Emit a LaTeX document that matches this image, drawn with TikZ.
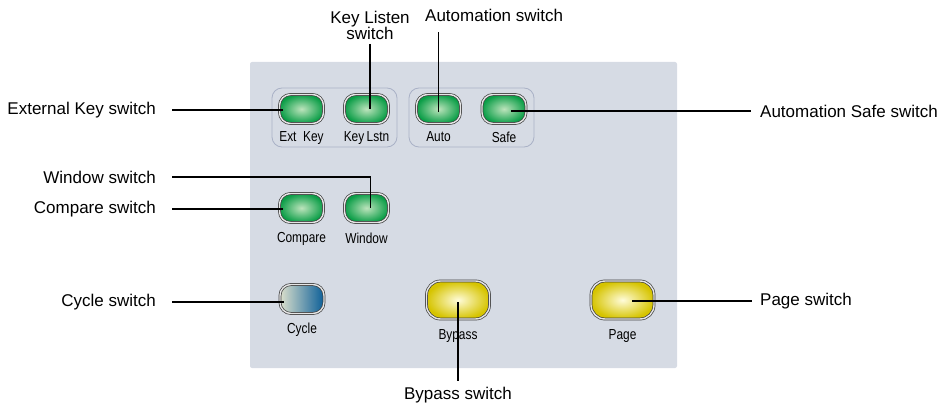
\documentclass[tikz,border=0pt]{standalone}
\usepackage{fontspec}
\setmainfont{Liberation Sans}
\newfontfamily\capfont[FakeStretch=0.82]{Liberation Sans}
\usetikzlibrary{positioning}
\definecolor{panelgray}{HTML}{D6DBE4}
\definecolor{grpline}{HTML}{A9B1C6}
\definecolor{ledgreen}{HTML}{0C9E48}
\definecolor{ledgreenlt}{HTML}{BDE4BC}
\definecolor{ledyellow}{HTML}{D6C400}
\definecolor{ledyellowlt}{HTML}{FFFCDA}
\definecolor{ledblue}{HTML}{0B5E98}
\definecolor{ledbluelt}{HTML}{DCE0CC}
\tikzset{
  btn/.style={draw=black!75,line width=0.7pt,double=gray!20,double distance=1.4pt,
    rounded corners=11pt,minimum width=44pt,minimum height=29pt,inner sep=0pt},
  bigbtn/.style={btn,rounded corners=14pt,minimum width=63pt,minimum height=38pt},
  greenled/.style={inner color=ledgreenlt,outer color=ledgreen},
  yellowled/.style={inner color=ledyellowlt,outer color=ledyellow},
  blueled/.style={left color=ledbluelt,middle color=ledblue,right color=ledblue},
  btncap/.style={font=\capfont\fontsize{14.5}{14}\selectfont,inner sep=1pt},
  lbl/.style={font=\fontsize{17}{16}\selectfont,inner sep=0pt},
  lead/.style={line width=1.9pt},
  grp/.style={draw=grpline,line width=0.8pt,rounded corners=10pt}
}
\begin{document}
\begin{tikzpicture}[x=1pt,y=-1pt]
\useasboundingbox (0,0) rectangle (940,404);
% panel and groups
\fill[panelgray,rounded corners=2pt] (250,62) rectangle (677,368);
\draw[grp] (272,88) rectangle (397,147);
\draw[grp] (409,88) rectangle (534,147);
% switches
\node[btn,greenled] (extkey) at (301.5,109) {};
\node[btn,greenled] (keylstn) at (366.5,109) {};
\node[btn,greenled] (auto) at (438.5,109) {};
\node[btn,greenled] (safe) at (504,109) {};
\node[btn,greenled] (compare) at (301.5,208) {};
\node[btn,greenled] (window) at (366.5,208) {};
\node[btn,blueled] (cycle) at (302,299) {};
\node[bigbtn,yellowled] (bypass) at (458,300) {};
\node[bigbtn,yellowled] (page) at (622.5,300) {};
% captions
\node[btncap,below=6.5pt of extkey] (extkeycap) {Ext\ \ Key};
\node[btncap,below=6.5pt of keylstn] (keylstncap) {Key\,Lstn};
\node[btncap,below=6.5pt of auto] (autocap) {Auto};
\node[btncap,below=6.5pt of safe] (safecap) {Safe};
\node[btncap,below=8.5pt of compare] (comparecap) {Compare};
\node[btncap,below=8.5pt of window] (windowcap) {Window};
\node[btncap,below=8pt of cycle] (cyclecap) {Cycle};
\node[btncap,below=9pt of bypass] (bypasscap) {Bypass};
\node[btncap,below=9pt of page] (pagecap) {Page};
% labels
\node[lbl,anchor=east] (extkeylbl) at (156,110) {External Key switch};
\node[lbl,anchor=east] (windowlbl) at (156,177) {Window switch};
\node[lbl,anchor=east] (comparelbl) at (156,209) {Compare switch};
\node[lbl,anchor=east] (cyclelbl) at (156,302) {Cycle switch};
\node[lbl,anchor=west] (safelbl) at (760,111) {Automation Safe switch};
\node[lbl,anchor=west] (pagelbl) at (760,301) {Page switch};
\node[lbl,anchor=base] (bypasslbl) at (458,399) {Bypass switch};
\node[lbl,anchor=base west] (autolbl) at (425,22) {Automation switch};
\node[lbl,align=center,anchor=north] (keylstnlbl) at (370,11) {Key Listen\\switch};
% leaders
\draw[lead,shorten <=16pt,shorten >=-4pt] (extkeylbl.east) -- (extkeylbl.east -| extkey.west);
\draw[lead,shorten <=16pt] (windowlbl.east) -| ([xshift=4pt]window.center);
\draw[lead,shorten <=16pt,shorten >=-4pt] (comparelbl.east) -- (comparelbl.east -| compare.west);
\draw[lead,shorten <=16pt,shorten >=-4pt] (cyclelbl.east) -- (cyclelbl.east -| cycle.west);
\draw[lead,shorten <=4pt] (keylstnlbl.south) -- (keylstnlbl.south |- keylstn.center);
\draw[lead,shorten >=10pt] ([yshift=-3pt]auto.center) -- (auto.center |- autolbl.base);
\draw[lead,shorten <=-15pt,shorten >=9pt] (safelbl.west -| safe.east) -- (safelbl.west);
\draw[lead,shorten <=-22pt,shorten >=8pt] (pagelbl.west -| page.east) -- (pagelbl.west);
\draw[lead,shorten >=5pt] ([yshift=-2pt]bypass.center) -- (bypass.center |- bypasslbl.north);
\end{tikzpicture}
\end{document}
